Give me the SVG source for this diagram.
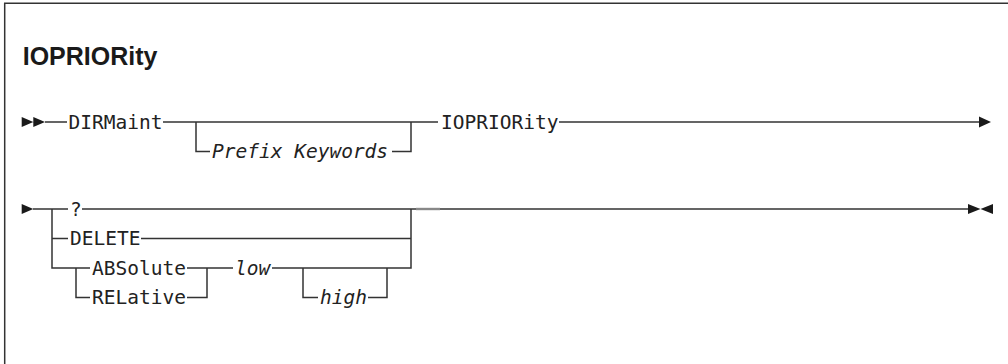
<svg xmlns="http://www.w3.org/2000/svg" width="1008" height="364" viewBox="0 0 1008 364">
<style>
.frame{fill:none;stroke:#333;stroke-width:1.5}
.ln{fill:none;stroke:#333;stroke-width:1.5}
.ah{fill:#1a1a1a;stroke:none}
.t{font-family:"DejaVu Sans Mono","Liberation Mono",monospace;font-size:19.5px;fill:#222}
.i{font-style:italic}
.title{font-family:"Liberation Sans",Arial,sans-serif;font-weight:bold;font-size:25px;fill:#1a1a1a}
</style>
<rect width="1008" height="364" fill="#fff"/>
<path class="frame" d="M4.7,364 V3.3 H1008"/>
<text class="title" x="22.7" y="65">IOPRIORity</text>

<g id="connectors">
  <!-- row 1 -->
  <path class="ah" d="M21.7,117 L33.3,122 L21.7,127 Z M33.3,117 L45,122 L33.3,127 Z"/>
  <path class="ln" d="M45,122 H67 M163,122 H438 M196,122 V151.5 H210 M392,151.5 H411 V122 M559,122 H980"/>
  <path class="ah" d="M979,116.5 L991,122 L979,127.5 Z"/>
  <!-- row 2 -->
  <path class="ah" d="M21.7,204 L33.3,209 L21.7,214 Z"/>
  <path class="ln" d="M33,209 H68 M82,209 H969 M52,209 V268 H90 M52,238.5 H68 M141,238.5 H411 M76,268 V297.5 H90 M187,268 H233 M187,297.5 H207 V268 M272,268 H411 V209 M303,268 V297.5 H318 M368,297.5 H387 V268"/>
  <path class="ln" d="M416,209 H440" style="stroke:#888;stroke-width:2.4"/>
  <path class="ah" d="M968,204 L980.5,209 L968,214 Z M993,204 L980.5,209 L993,214 Z"/>
</g>

<g id="n-dirmaint"><text class="t" x="68.5" y="128.5">DIRMaint</text></g>
<g id="n-prefix"><text class="t i" x="212" y="158">Prefix Keywords</text></g>
<g id="n-iopriority"><text class="t" x="441" y="128.5">IOPRIORity</text></g>
<g id="n-query"><text class="t" x="70" y="215.5">?</text></g>
<g id="n-delete"><text class="t" x="70" y="245">DELETE</text></g>
<g id="n-absolute"><text class="t" x="92" y="274.5">ABSolute</text></g>
<g id="n-relative"><text class="t" x="92" y="304">RELative</text></g>
<g id="n-low"><text class="t i" x="235" y="274.5">low</text></g>
<g id="n-high"><text class="t i" x="320" y="304">high</text></g>
</svg>
